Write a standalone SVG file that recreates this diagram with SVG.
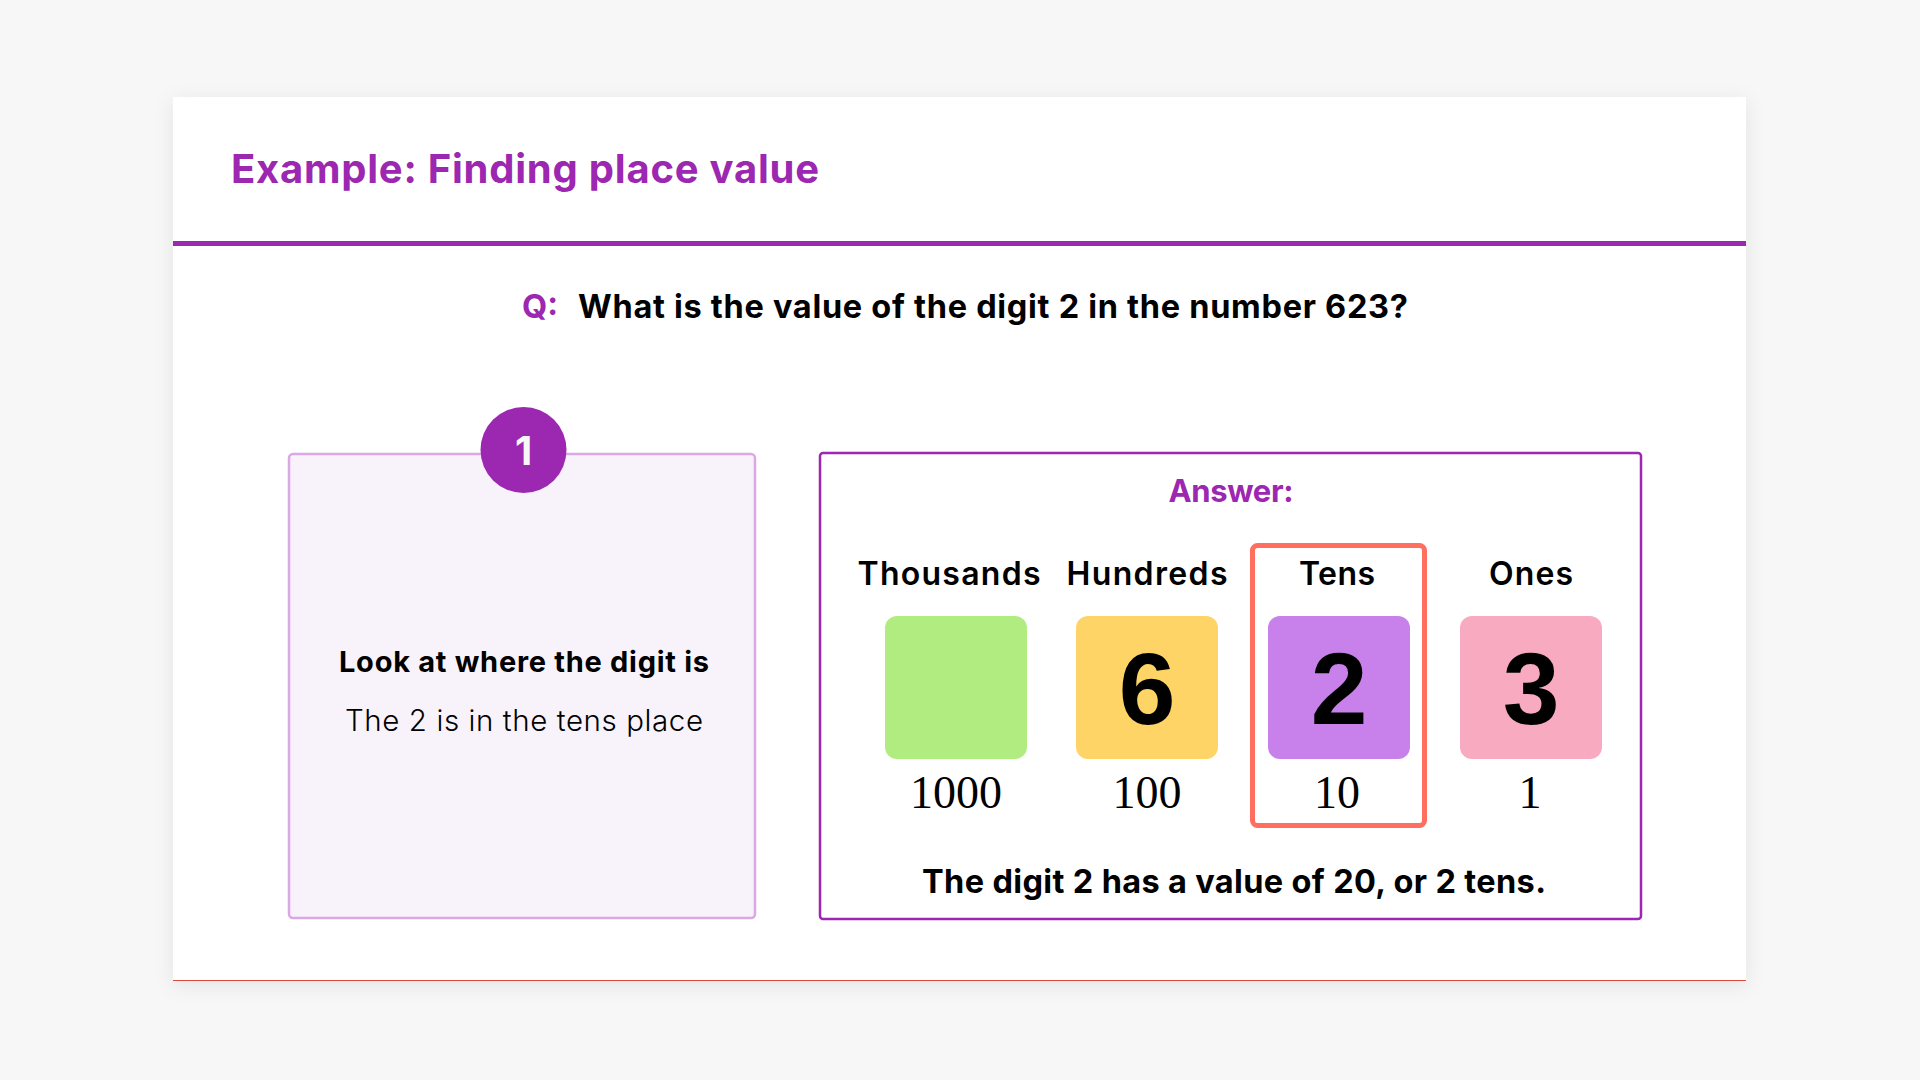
<svg xmlns="http://www.w3.org/2000/svg" width="1920" height="1080" viewBox="0 0 1920 1080">
  <defs>
    <filter id="shadow" x="-5%" y="-5%" width="110%" height="115%">
      <feDropShadow dx="0" dy="4" stdDeviation="10" flood-color="#000" flood-opacity="0.08"/>
    </filter>
    <style>
      .sans { font-family: Inter, "Open Sans", "Liberation Sans", sans-serif; }
      .title { font-size: 40px; font-weight: 700; fill: #9c27b0; }
      .q { font-size: 32.5px; font-weight: 700; fill: #000; }
      .qmark { font-size: 32.5px; font-weight: 700; fill: #9c27b0; }
      .step-title { font-size: 29px; font-weight: 700; fill: #000; }
      .step-body { font-size: 29.5px; font-weight: 300; fill: #000; }
      .answer { font-size: 31px; font-weight: 700; fill: #9c27b0; }
      .col { font-size: 32px; font-weight: 600; fill: #000; }
      .digit { font-family: "Liberation Sans", Arial, sans-serif; font-size: 102px; font-weight: 700; fill: #000; }
      .val { font-family: "Liberation Serif", "Times New Roman", serif; font-size: 46px; fill: #000; }
      .concl { font-size: 32.5px; font-weight: 700; fill: #000; }
    </style>
  </defs>

  <rect x="0" y="0" width="1920" height="1080" fill="#f7f7f7"/>

  <g id="card">
    <rect x="173" y="97" width="1573" height="884" fill="#ffffff" filter="url(#shadow)"/>
    <line x1="173" y1="980.5" x2="1746" y2="980.5" stroke="#dc4a3d" stroke-width="1.2"/>
    <rect x="173" y="241" width="1573" height="5" fill="#9c27b0"/>
  </g>

  <g id="title">
    <text class="sans title" x="231" y="183" textLength="588" lengthAdjust="spacing">Example: Finding place value</text>
  </g>

  <g id="question">
    <text class="sans qmark" x="522" y="318">Q:</text>
    <text class="sans q" x="578" y="318" textLength="830" lengthAdjust="spacing">What is the value of the digit 2 in the number 623?</text>
  </g>

  <g id="step-1">
    <rect x="289" y="454" width="466" height="464" rx="4" fill="#f8f3fa" stroke="#dba7e5" stroke-width="2.5"/>
    <circle cx="523.5" cy="450" r="43" fill="#9c27b0"/>
    <text class="sans" x="523.5" y="465" text-anchor="middle" font-size="40" font-weight="700" fill="#f7f7f7">1</text>
    <text class="sans step-title" x="524" y="672" text-anchor="middle" textLength="370" lengthAdjust="spacing">Look at where the digit is</text>
    <text class="sans step-body" x="524" y="731" text-anchor="middle" textLength="358" lengthAdjust="spacing">The 2 is in the tens place</text>
  </g>

  <g id="answer">
    <rect x="820" y="453" width="821" height="466" rx="3" fill="#ffffff" stroke="#9c27b0" stroke-width="2.5"/>
    <text class="sans answer" x="1231" y="502" text-anchor="middle" textLength="125" lengthAdjust="spacing">Answer:</text>
  </g>

  <g id="thousands">
    <text class="sans col" x="949" y="585" text-anchor="middle" textLength="183" lengthAdjust="spacing">Thousands</text>
    <rect x="885" y="616" width="142" height="143" rx="12" fill="#b1ec80"/>
    <text class="val" x="956" y="808" text-anchor="middle">1000</text>
  </g>

  <g id="hundreds">
    <text class="sans col" x="1147" y="585" text-anchor="middle" textLength="161" lengthAdjust="spacing">Hundreds</text>
    <rect x="1076" y="616" width="142" height="143" rx="12" fill="#ffd466"/>
    <text class="digit" x="1147" y="724" text-anchor="middle">6</text>
    <text class="val" x="1147" y="808" text-anchor="middle">100</text>
  </g>

  <g id="tens">
    <rect x="1252.5" y="545.5" width="172" height="280" rx="5" fill="none" stroke="#ff6e5e" stroke-width="5"/>
    <text class="sans col" x="1337" y="585" text-anchor="middle" textLength="76" lengthAdjust="spacing">Tens</text>
    <rect x="1268" y="616" width="142" height="143" rx="12" fill="#c880ea"/>
    <text class="digit" x="1339" y="724" text-anchor="middle">2</text>
    <text class="val" x="1337" y="808" text-anchor="middle">10</text>
  </g>

  <g id="ones">
    <text class="sans col" x="1531" y="585" text-anchor="middle" textLength="84" lengthAdjust="spacing">Ones</text>
    <rect x="1460" y="616" width="142" height="143" rx="12" fill="#f8aac1"/>
    <text class="digit" x="1531" y="724" text-anchor="middle">3</text>
    <text class="val" x="1530" y="808" text-anchor="middle">1</text>
  </g>

  <g id="conclusion">
    <text class="sans concl" x="1234" y="893" text-anchor="middle" textLength="624" lengthAdjust="spacing">The digit 2 has a value of 20, or 2 tens.</text>
  </g>
</svg>
